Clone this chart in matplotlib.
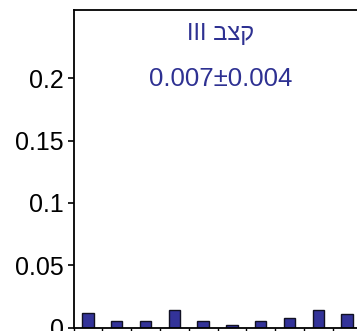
import matplotlib
matplotlib.use("Agg")
import matplotlib.pyplot as plt

# bar values per category
categories = list(range(1, 11))
values = [0.012, 0.005, 0.005, 0.014, 0.005, 0.002, 0.005, 0.008, 0.014, 0.011]
yticks = [0, 0.05, 0.1, 0.15, 0.2]
ytick_labels = ["0", "0.05", "0.1", "0.15", "0.2"]
title_text = "III " + "קצב"[::-1]   # Hebrew written in visual (left-to-right) order
stat_text = "0.007±0.004"

blue = "#2e3192"
fonts = ["Liberation Sans", "DejaVu Sans"]
plt.rcParams["font.family"] = fonts

fig = plt.figure(figsize=(3.57, 3.31), dpi=100)
W, H = 357, 331
left, top, bottom = 73.5, 10, 327.5
step = 28.8
n_slots = 12
ax = fig.add_axes([left / W, (H - bottom) / H, step * n_slots / W, (bottom - top) / H])

xs = [c - 0.5 for c in categories]
ax.bar(xs, values, width=0.4, color="#333399", edgecolor="#111122", linewidth=1.0)

ax.set_xlim(0, n_slots)
ax.set_ylim(0, 0.255)
ax.set_xticks(range(0, n_slots + 1))
ax.set_xticklabels([])
ax.set_yticks(yticks)
ax.set_yticklabels(ytick_labels)
ax.tick_params(axis="y", labelsize=18, length=4, width=1.2, pad=3)
ax.tick_params(axis="x", length=6, width=1.0)
for s in ["left", "top", "bottom"]:
    ax.spines[s].set_linewidth(1.3)
ax.spines["right"].set_visible(False)

ax.text(0.425, 0.925, title_text, transform=ax.transAxes, ha="center", va="center",
        fontsize=17, color=blue, family=fonts)
ax.text(0.425, 0.783, stat_text, transform=ax.transAxes, ha="center", va="center",
        fontsize=18.5, color=blue, family=fonts)

fig.savefig("out.png", dpi=100)
